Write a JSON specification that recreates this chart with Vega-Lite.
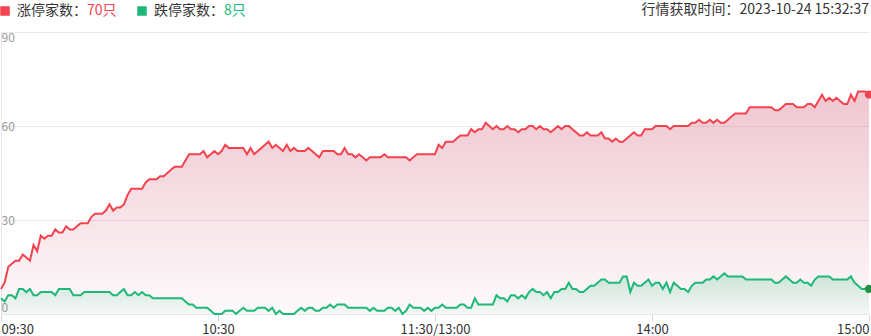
{
  "$schema": "https://vega.github.io/schema/vega-lite/v6.json",
  "width": 868,
  "height": 282,
  "autosize": {"type": "none"},
  "padding": {"left": 1, "top": 32, "right": 2, "bottom": 22},
  "background": "white",
  "title": {"text": "行情获取时间：2023-10-24 15:32:37", "anchor": "end", "frame": "group", "fontSize": 14, "fontWeight": "normal", "color": "#333333", "font": "Noto Sans CJK SC", "offset": 8, "dy": 21},
  "data": {"values": [
{"t":"09:30","u":8,"d":5},{"t":"09:31","u":10,"d":4},{"t":"09:32","u":15,"d":6},{"t":"09:33","u":16,"d":6},{"t":"09:34","u":17,"d":5},{"t":"09:35","u":17,"d":8},{"t":"09:36","u":19,"d":8},{"t":"09:37","u":18,"d":7},{"t":"09:38","u":17,"d":8},{"t":"09:39","u":22,"d":6},
{"t":"09:40","u":20,"d":6},{"t":"09:41","u":25,"d":7},{"t":"09:42","u":24,"d":7},{"t":"09:43","u":25,"d":7},{"t":"09:44","u":25,"d":7},{"t":"09:45","u":27,"d":6},{"t":"09:46","u":26,"d":8},{"t":"09:47","u":26,"d":8},{"t":"09:48","u":28,"d":8},{"t":"09:49","u":27,"d":8},
{"t":"09:50","u":27,"d":6},{"t":"09:51","u":28,"d":6},{"t":"09:52","u":29,"d":6},{"t":"09:53","u":29,"d":7},{"t":"09:54","u":29,"d":7},{"t":"09:55","u":31,"d":7},{"t":"09:56","u":32,"d":7},{"t":"09:57","u":32,"d":7},{"t":"09:58","u":32,"d":7},{"t":"09:59","u":33,"d":7},
{"t":"10:00","u":35,"d":7},{"t":"10:01","u":33,"d":6},{"t":"10:02","u":34,"d":6},{"t":"10:03","u":34,"d":7},{"t":"10:04","u":35,"d":8},{"t":"10:05","u":38,"d":6},{"t":"10:06","u":40,"d":6},{"t":"10:07","u":40,"d":7},{"t":"10:08","u":40,"d":6},{"t":"10:09","u":40,"d":7},
{"t":"10:10","u":42,"d":6},{"t":"10:11","u":43,"d":6},{"t":"10:12","u":43,"d":5},{"t":"10:13","u":43,"d":5},{"t":"10:14","u":44,"d":5},{"t":"10:15","u":44,"d":5},{"t":"10:16","u":45,"d":5},{"t":"10:17","u":46,"d":5},{"t":"10:18","u":47,"d":5},{"t":"10:19","u":47,"d":5},
{"t":"10:20","u":47,"d":5},{"t":"10:21","u":49,"d":4},{"t":"10:22","u":51,"d":3},{"t":"10:23","u":51,"d":3},{"t":"10:24","u":51,"d":2},{"t":"10:25","u":51,"d":2},{"t":"10:26","u":52,"d":2},{"t":"10:27","u":50,"d":2},{"t":"10:28","u":51,"d":1},{"t":"10:29","u":52,"d":0},
{"t":"10:30","u":51,"d":0},{"t":"10:31","u":52,"d":0},{"t":"10:32","u":54,"d":1},{"t":"10:33","u":53,"d":1},{"t":"10:34","u":53,"d":1},{"t":"10:35","u":53,"d":0},{"t":"10:36","u":53,"d":1},{"t":"10:37","u":53,"d":2},{"t":"10:38","u":51,"d":1},{"t":"10:39","u":53,"d":1},
{"t":"10:40","u":51,"d":1},{"t":"10:41","u":52,"d":2},{"t":"10:42","u":53,"d":2},{"t":"10:43","u":54,"d":2},{"t":"10:44","u":55,"d":1},{"t":"10:45","u":53,"d":2},{"t":"10:46","u":54,"d":0},{"t":"10:47","u":53,"d":1},{"t":"10:48","u":52,"d":0},{"t":"10:49","u":54,"d":0},
{"t":"10:50","u":52,"d":0},{"t":"10:51","u":53,"d":0},{"t":"10:52","u":52,"d":1},{"t":"10:53","u":52,"d":2},{"t":"10:54","u":52,"d":1},{"t":"10:55","u":53,"d":2},{"t":"10:56","u":52,"d":2},{"t":"10:57","u":51,"d":1},{"t":"10:58","u":50,"d":1},{"t":"10:59","u":52,"d":2},
{"t":"11:00","u":52,"d":2},{"t":"11:01","u":52,"d":3},{"t":"11:02","u":52,"d":2},{"t":"11:03","u":51,"d":3},{"t":"11:04","u":51,"d":3},{"t":"11:05","u":53,"d":3},{"t":"11:06","u":51,"d":2},{"t":"11:07","u":51,"d":2},{"t":"11:08","u":50,"d":2},{"t":"11:09","u":51,"d":2},
{"t":"11:10","u":50,"d":2},{"t":"11:11","u":49,"d":2},{"t":"11:12","u":50,"d":1},{"t":"11:13","u":50,"d":2},{"t":"11:14","u":50,"d":1},{"t":"11:15","u":50,"d":1},{"t":"11:16","u":51,"d":1},{"t":"11:17","u":50,"d":2},{"t":"11:18","u":50,"d":2},{"t":"11:19","u":50,"d":1},
{"t":"11:20","u":50,"d":2},{"t":"11:21","u":50,"d":0},{"t":"11:22","u":50,"d":1},{"t":"11:23","u":49,"d":3},{"t":"11:24","u":50,"d":2},{"t":"11:25","u":51,"d":2},{"t":"11:26","u":51,"d":2},{"t":"11:27","u":51,"d":1},{"t":"11:28","u":51,"d":2},{"t":"11:29","u":51,"d":1},
{"t":"11:30","u":51,"d":2},
{"t":"13:01","u":54,"d":2},{"t":"13:02","u":53,"d":3},{"t":"13:03","u":55,"d":2},{"t":"13:04","u":55,"d":2},{"t":"13:05","u":55,"d":2},{"t":"13:06","u":56,"d":2},{"t":"13:07","u":57,"d":3},{"t":"13:08","u":57,"d":3},{"t":"13:09","u":57,"d":2},
{"t":"13:10","u":59,"d":2},{"t":"13:11","u":58,"d":5},{"t":"13:12","u":59,"d":3},{"t":"13:13","u":59,"d":3},{"t":"13:14","u":61,"d":3},{"t":"13:15","u":60,"d":3},{"t":"13:16","u":59,"d":3},{"t":"13:17","u":60,"d":6},{"t":"13:18","u":59,"d":5},{"t":"13:19","u":59,"d":5},
{"t":"13:20","u":60,"d":4},{"t":"13:21","u":59,"d":6},{"t":"13:22","u":59,"d":6},{"t":"13:23","u":58,"d":5},{"t":"13:24","u":59,"d":6},{"t":"13:25","u":59,"d":5},{"t":"13:26","u":60,"d":7},{"t":"13:27","u":60,"d":8},{"t":"13:28","u":59,"d":7},{"t":"13:29","u":60,"d":7},
{"t":"13:30","u":59,"d":6},{"t":"13:31","u":59,"d":7},{"t":"13:32","u":58,"d":5},{"t":"13:33","u":59,"d":7},{"t":"13:34","u":60,"d":7},{"t":"13:35","u":59,"d":8},{"t":"13:36","u":60,"d":8},{"t":"13:37","u":60,"d":10},{"t":"13:38","u":59,"d":8},{"t":"13:39","u":58,"d":8},
{"t":"13:40","u":57,"d":7},{"t":"13:41","u":57,"d":7},{"t":"13:42","u":58,"d":8},{"t":"13:43","u":57,"d":9},{"t":"13:44","u":57,"d":9},{"t":"13:45","u":57,"d":10},{"t":"13:46","u":58,"d":11},{"t":"13:47","u":56,"d":11},{"t":"13:48","u":56,"d":10},{"t":"13:49","u":55,"d":10},
{"t":"13:50","u":56,"d":10},{"t":"13:51","u":55,"d":10},{"t":"13:52","u":55,"d":12},{"t":"13:53","u":56,"d":12},{"t":"13:54","u":57,"d":7},{"t":"13:55","u":58,"d":10},{"t":"13:56","u":57,"d":9},{"t":"13:57","u":57,"d":9},{"t":"13:58","u":59,"d":10},{"t":"13:59","u":59,"d":11},
{"t":"14:00","u":59,"d":9},{"t":"14:01","u":60,"d":10},{"t":"14:02","u":60,"d":10},{"t":"14:03","u":60,"d":8},{"t":"14:04","u":60,"d":10},{"t":"14:05","u":59,"d":7},{"t":"14:06","u":60,"d":10},{"t":"14:07","u":60,"d":9},{"t":"14:08","u":60,"d":8},{"t":"14:09","u":60,"d":8},
{"t":"14:10","u":60,"d":7},{"t":"14:11","u":61,"d":9},{"t":"14:12","u":61,"d":10},{"t":"14:13","u":62,"d":10},{"t":"14:14","u":61,"d":10},{"t":"14:15","u":61,"d":11},{"t":"14:16","u":62,"d":11},{"t":"14:17","u":61,"d":12},{"t":"14:18","u":62,"d":11},{"t":"14:19","u":61,"d":12},
{"t":"14:20","u":61,"d":13},{"t":"14:21","u":62,"d":12},{"t":"14:22","u":63,"d":12},{"t":"14:23","u":64,"d":12},{"t":"14:24","u":64,"d":12},{"t":"14:25","u":64,"d":12},{"t":"14:26","u":64,"d":11},{"t":"14:27","u":66,"d":11},{"t":"14:28","u":66,"d":11},{"t":"14:29","u":66,"d":11},
{"t":"14:30","u":66,"d":11},{"t":"14:31","u":66,"d":11},{"t":"14:32","u":66,"d":11},{"t":"14:33","u":66,"d":11},{"t":"14:34","u":65,"d":10},{"t":"14:35","u":65,"d":10},{"t":"14:36","u":66,"d":11},{"t":"14:37","u":67,"d":12},{"t":"14:38","u":67,"d":11},{"t":"14:39","u":67,"d":10},
{"t":"14:40","u":66,"d":10},{"t":"14:41","u":66,"d":11},{"t":"14:42","u":66,"d":10},{"t":"14:43","u":67,"d":10},{"t":"14:44","u":67,"d":9},{"t":"14:45","u":66,"d":11},{"t":"14:46","u":68,"d":12},{"t":"14:47","u":70,"d":12},{"t":"14:48","u":68,"d":12},{"t":"14:49","u":69,"d":12},
{"t":"14:50","u":68,"d":11},{"t":"14:51","u":69,"d":11},{"t":"14:52","u":68,"d":11},{"t":"14:53","u":67,"d":11},{"t":"14:54","u":67,"d":11},{"t":"14:55","u":70,"d":12},{"t":"14:56","u":68,"d":10},{"t":"14:57","u":71,"d":9},{"t":"14:58","u":71,"d":8},{"t":"14:59","u":71,"d":8},
{"t":"15:00","u":70,"d":8}
  ]},
  "encoding": {
    "x": {"field": "t", "type": "ordinal", "scale": {"type": "point", "padding": 0},
      "axis": {"values": ["09:30","10:30","11:30","14:00","15:00"], "labelExpr": "datum.value == '11:30' ? '11:30/13:00' : datum.value", "labelFlush": true, "labelAngle": 0, "labelFont": "Noto Sans CJK SC", "labelFontSize": 13, "labelColor": "#333333", "labelPadding": 2, "tickColor": "#d5d8e0", "tickSize": 7, "domainColor": "#e6e8ee", "grid": false, "title": null}}
  },
  "layer": [
    {"mark": {"type": "area", "color": {"gradient": "linear", "x1": 0, "y1": 0, "x2": 0, "y2": 1, "stops": [{"offset": 0, "color": "rgba(209,92,121,0.35)"}, {"offset": 1, "color": "rgba(209,92,121,0.03)"}]}},
     "encoding": {"y": {"field": "u", "type": "quantitative", "scale": {"domain": [0, 90], "nice": false},
       "axis": {"values": [0, 30, 60, 90], "grid": true, "gridColor": "#ebe8ec", "ticks": false, "domain": true, "domainColor": "#e6e8ee", "labelAlign": "left", "labelPadding": 0, "labelFlush": true, "labelFont": "Noto Sans CJK SC", "labelFontSize": 12, "labelColor": "#999999", "title": null}}}},
    {"mark": {"type": "area", "color": {"gradient": "linear", "x1": 0, "y1": 0, "x2": 0, "y2": 1, "stops": [{"offset": 0, "color": "rgba(30,184,120,0.22)"}, {"offset": 1, "color": "rgba(30,184,120,0.04)"}]}},
     "encoding": {"y": {"field": "d", "type": "quantitative"}}},
    {"transform": [{"fold": ["u", "d"], "as": ["s", "v"]}],
     "mark": {"type": "line", "strokeWidth": 2},
     "encoding": {
       "y": {"field": "v", "type": "quantitative"},
       "color": {"field": "s", "type": "nominal",
         "scale": {"domain": ["u", "un", "d", "dn"], "range": ["#f3434f", "#f3434f", "#1eb878", "#1eb878"]},
         "legend": {"orient": "none", "legendX": 0, "legendY": -28, "direction": "horizontal", "title": null,
           "columnPadding": 0, "symbolType": "square", "symbolSize": 64,
           "labelFont": "Noto Sans CJK SC", "labelFontSize": 14, "labelColor": "#333333",
           "labelExpr": "datum.value == 'u' ? '涨停家数：' : datum.value == 'un' ? '70只' : datum.value == 'd' ? '跌停家数：' : '8只'",
           "encode": {
             "symbols": {"update": {"fill": {"scale": "color", "field": "value"}, "stroke": {"value": "transparent"}, "cornerRadius": {"value": 2}, "opacity": {"signal": "datum.index % 2 ? 0 : 1"}, "x": {"signal": "datum.index == 2 ? 25 : 4"}}},
             "labels": {"update": {"fill": {"signal": "datum.index == 1 ? '#f3434f' : datum.index == 3 ? '#1eb878' : '#333333'"}, "x": {"signal": "datum.index == 0 ? 16 : datum.index == 2 ? 37 : 0"}}}
           }}
       }}},
    {"transform": [{"filter": "datum.t == '15:00'"}],
     "mark": {"type": "point", "filled": true, "size": 70, "opacity": 1, "color": "#f3434f"},
     "encoding": {"y": {"field": "u", "type": "quantitative"}}},
    {"transform": [{"filter": "datum.t == '15:00'"}],
     "mark": {"type": "point", "filled": true, "size": 70, "opacity": 1, "color": "#23923f"},
     "encoding": {"y": {"field": "d", "type": "quantitative"}}}
  ],
  "config": {"view": {"stroke": null}, "font": "Noto Sans CJK SC"}
}
